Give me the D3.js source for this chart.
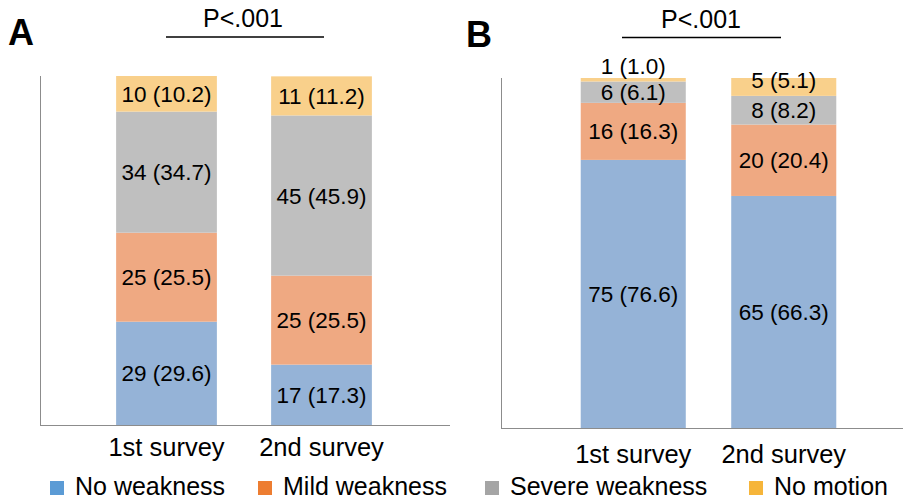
<!DOCTYPE html>
<meta charset="utf-8">
<style>
    body { margin: 0; background: #fff; }
    svg text { font-family: "Liberation Sans", Arial, sans-serif; fill: #000; }
    .axis line { stroke: #8c8c8c; stroke-width: 1; shape-rendering: crispEdges; }
    .panel-letter { font-size: 36px; font-weight: bold; }
    .ptext { font-size: 25px; }
    .barlabel { font-size: 22.5px; }
    .xlabel { font-size: 25.5px; }
    .legend text { font-size: 25px; }
</style>
<body>
<svg width="903" height="502"></svg>

<script src="https://d3js.org/d3.v7.min.js"></script>
<script type='text/javascript'>

    var surveys = ['1st survey', '2nd survey'];
    var levels = ['No weakness', 'Mild weakness', 'Severe weakness', 'No motion'];

    // counts and percentages, one row per survey, columns follow levels
    var countsA = [[29, 25, 34, 10], [17, 25, 45, 11]];
    var pctA    = [[29.6, 25.5, 34.7, 10.2], [17.3, 25.5, 45.9, 11.2]];
    var countsB = [[75, 16, 6, 1], [65, 20, 8, 5]];
    var pctB    = [[76.6, 16.3, 6.1, 1.0], [66.3, 20.4, 8.2, 5.1]];
    var pLabel = 'P<.001';

    var barColor = ['#95b3d7', '#efa982', '#bfbfbf', '#f9d08b'];
    var keyColor = ['#5b9bd5', '#ed7d31', '#a5a5a5', '#f6b53a'];

    var svg = d3.select('svg');

    var panels = [
        {name: 'A', counts: countsA, pct: pctA, left: 40, right: 450, top: 76, bottom: 425,
         band: [89, 399], pad: 0.35, letterX: 8, letterY: 45, pX: 243, pY: 27, lineX: [166, 324], lineY: 37, labelY: 456},
        {name: 'B', counts: countsB, pct: pctB, left: 501, right: 903, top: 78, bottom: 428,
         band: [558, 859], pad: 0.302, letterX: 466, letterY: 47, pX: 701, pY: 28, lineX: [622, 781], lineY: 37.5, labelY: 463}
    ];

    panels.forEach(function(p) {
        var g = svg.append('g').attr('id', 'panel' + p.name);

        var x = d3.scaleBand().domain(surveys).range(p.band)
            .paddingInner(p.pad).paddingOuter(p.pad / 2);
        var y = d3.scaleLinear().domain([0, 100]).range([p.bottom, p.top]);

        // stacked segments
        var segs = [];
        surveys.forEach(function(s, i) {
            var acc = 0;
            levels.forEach(function(l, j) {
                segs.push({survey: s, level: j, y0: acc, y1: acc + p.pct[i][j],
                           count: p.counts[i][j], pct: p.pct[i][j]});
                acc += p.pct[i][j];
            });
        });

        g.append('g').selectAll('rect')
            .data(segs)
            .enter().append('rect')
            .attr('x', function(d) { return x(d.survey); })
            .attr('width', x.bandwidth())
            .attr('y', function(d) { return y(d.y1); })
            .attr('height', function(d) { return y(d.y0) - y(d.y1); })
            .attr('fill', function(d) { return barColor[d.level]; });

        g.append('g').selectAll('text')
            .data(segs)
            .enter().append('text')
            .attr('class', 'barlabel')
            .attr('text-anchor', 'middle')
            .attr('x', function(d) { return x(d.survey) + x.bandwidth() / 2; })
            .attr('y', function(d) {
                var h = y(d.y0) - y(d.y1);
                // tiny segment: label sits above the bar
                if (h < 8) return y(d.y1) - 12;
                // short segment at the top: label pushed up
                if (h < 22 && d.level === levels.length - 1) return y(d.y1) + 2;
                return (y(d.y0) + y(d.y1)) / 2;
            })
            .attr('dy', '0.36em')
            .text(function(d) { return d.count + ' (' + d3.format('.1f')(d.pct) + ')'; });

        // axes
        var ax = g.append('g').attr('class', 'axis');
        ax.append('line')
            .attr('x1', p.left + 0.5).attr('x2', p.left + 0.5)
            .attr('y1', p.top).attr('y2', p.bottom);
        ax.append('line')
            .attr('x1', p.left).attr('x2', p.right)
            .attr('y1', p.bottom + 0.5).attr('y2', p.bottom + 0.5);

        g.append('g').selectAll('text')
            .data(surveys)
            .enter().append('text')
            .attr('class', 'xlabel')
            .attr('text-anchor', 'middle')
            .attr('x', function(d) { return x(d) + x.bandwidth() / 2; })
            .attr('y', p.labelY)
            .text(function(d) { return d; });

        g.append('text')
            .attr('class', 'panel-letter')
            .attr('x', p.letterX)
            .attr('y', p.letterY)
            .text(p.name);

        g.append('text')
            .attr('class', 'ptext')
            .attr('text-anchor', 'middle')
            .attr('x', p.pX)
            .attr('y', p.pY)
            .text(pLabel);

        g.append('line')
            .attr('x1', p.lineX[0]).attr('x2', p.lineX[1])
            .attr('y1', p.lineY).attr('y2', p.lineY)
            .attr('stroke', '#000')
            .attr('stroke-width', 1.5);
    });

    // legend
    var legendX = [50, 258, 485, 749];
    var legend = svg.append('g').attr('class', 'legend');
    var items = legend.selectAll('g')
        .data(levels)
        .enter().append('g')
        .attr('transform', function(d, i) { return 'translate(' + legendX[i] + ',481)'; });

    items.append('rect')
        .attr('width', 14)
        .attr('height', 14)
        .attr('fill', function(d, i) { return keyColor[i]; });

    items.append('text')
        .attr('x', 25)
        .attr('y', 14)
        .text(function(d) { return d; });

</script>
